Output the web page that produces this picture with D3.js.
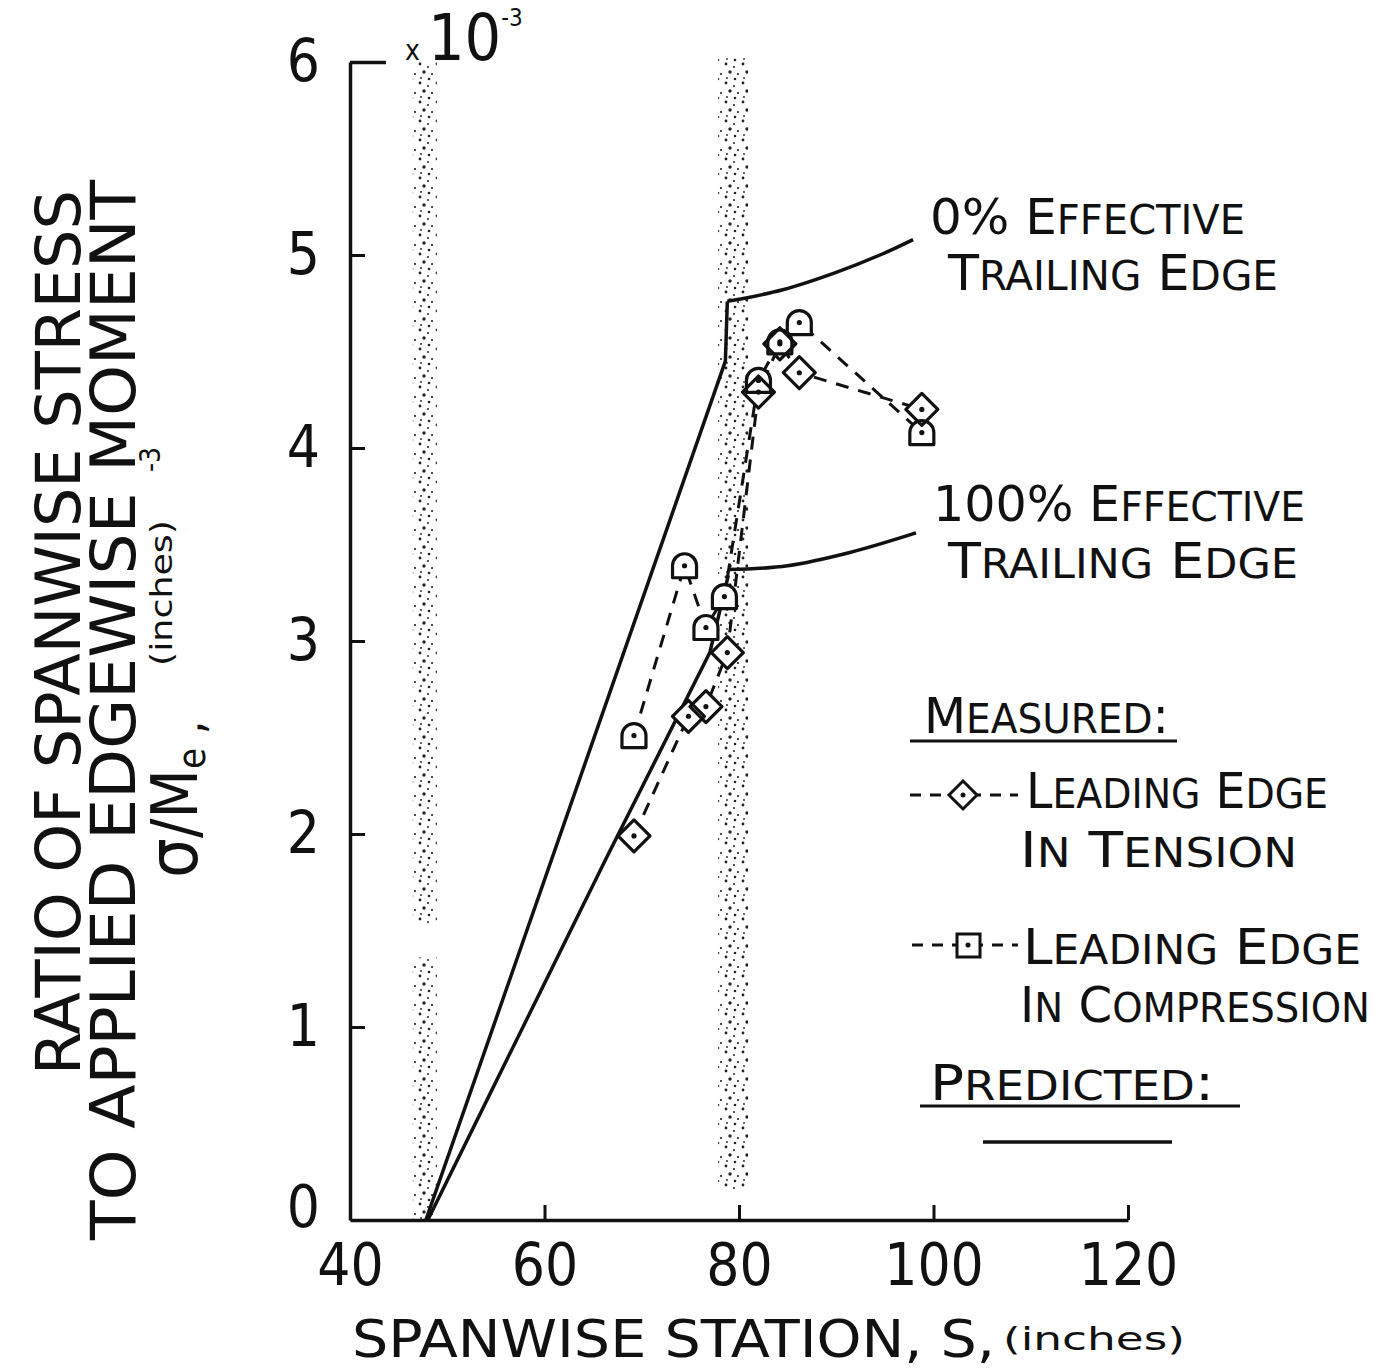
<!DOCTYPE html>
<html>
<head>
<meta charset="utf-8">
<script src="https://cdn.jsdelivr.net/npm/d3@7"></script>
<style>
  body { margin: 0; background: #fff; }
  text { font-family: "Liberation Sans Narrow", "DejaVu Sans Condensed", "Arial Narrow", sans-serif; fill: #111; }
</style>
</head>
<body>
<div id="chart"></div>
<script>
// measured, leading edge in tension (diamonds)
var tensionS = [69.2, 74.8, 76.6, 78.8, 82.0, 84.2, 86.2, 98.8];
var tensionR = [1.99, 2.61, 2.66, 2.94, 4.29, 4.54, 4.39, 4.20];
// measured, leading edge in compression (squares)
var compS = [69.2, 74.4, 76.6, 78.5, 82.0, 84.2, 86.2, 98.8];
var compR = [2.51, 3.39, 3.07, 3.23, 4.35, 4.55, 4.65, 4.08];
// predicted curves
var pred0S = [47.8, 78.6, 78.8];
var pred0R = [0, 4.45, 4.76];
var pred100S = [48.0, 66.4, 77.0, 78.9];
var pred100R = [0, 1.88, 2.94, 3.34];
// leader lines from the curves to their labels
var lead0S = [78.8, 84.5, 90.0, 94.5, 97.9];
var lead0R = [4.76, 4.82, 4.91, 5.00, 5.08];
var lead100S = [78.9, 85.0, 91.5, 98.2];
var lead100R = [3.37, 3.39, 3.46, 3.56];
// stippled bands: station, from, to
var bandS = [47.7, 47.7, 79.4];
var bandFrom = [0, 1.53, 0.15];
var bandTo = [1.36, 6, 6.02];

var xTicks = [40, 60, 80, 100, 120];
var yTicks = [0, 1, 2, 3, 4, 5, 6];

var svgWidth = 1375, svgHeight = 1371;
var margin = {top: 62, right: 247, bottom: 151, left: 350};
var width = svgWidth - margin.left - margin.right;
var height = svgHeight - margin.top - margin.bottom;

var svg = d3.select("#chart").append("svg")
  .attr("width", svgWidth)
  .attr("height", svgHeight);

// stipple pattern for the bands
var pat = svg.append("defs").append("pattern")
  .attr("id", "stip")
  .attr("patternUnits", "userSpaceOnUse")
  .attr("width", 17).attr("height", 19);
[[2, 2, 1.4], [10, 5, 1.0], [6, 10, 1.7], [14, 12, 1.1], [3, 16, 0.9], [11, 17, 1.3]].forEach(function(d) {
  pat.append("circle").attr("cx", d[0]).attr("cy", d[1]).attr("r", d[2]).attr("fill", "#222");
});

var chartGroup = svg.append("g")
  .attr("transform", `translate(${margin.left}, ${margin.top})`);

var x = d3.scaleLinear().domain([40, 120]).range([0, width]);
var y = d3.scaleLinear().domain([0, 6]).range([height, 0]);

// bands
chartGroup.selectAll(".band")
  .data(bandS.map((s, i) => ({s: s, a: bandFrom[i], b: bandTo[i], w: i < 2 ? 24 : 30})))
  .enter().append("rect")
  .attr("x", d => x(d.s) - d.w / 2)
  .attr("width", d => d.w)
  .attr("y", d => y(d.b))
  .attr("height", d => y(d.a) - y(d.b))
  .attr("fill", "url(#stip)");

// axes
var leftAxis = d3.axisLeft(y).tickValues(yTicks).tickFormat(d3.format("d"))
  .tickSize(-15).tickPadding(30).tickSizeOuter(0);
var bottomAxis = d3.axisBottom(x).tickValues(xTicks).tickFormat(d3.format("d"))
  .tickSize(-15).tickPadding(24).tickSizeOuter(0);

var gy = chartGroup.append("g").call(leftAxis);
var gx = chartGroup.append("g").attr("transform", `translate(0, ${height})`).call(bottomAxis);

[gx, gy].forEach(function(g) {
  g.select(".domain").attr("stroke", "#111").attr("stroke-width", 3.5);
  g.selectAll(".tick line").attr("stroke", "#111").attr("stroke-width", 3);
  g.selectAll(".tick text").style("font-size", "58px");
});
gy.selectAll(".tick").filter(d => d === 6).select("line").attr("x2", 36).attr("stroke-width", 3.5);
gy.selectAll(".tick").filter(d => d === 0).select("line").remove();
gy.selectAll(".tick").filter(d => d === 0).select("text").attr("y", -12);
gx.selectAll(".tick").filter(d => d === 40).select("line").remove();

// x10^-3
var mult = chartGroup.append("text").attr("x", 55).attr("y", -2);
mult.append("tspan").style("font-size", "28px").text("x");
mult.append("tspan").attr("dx", 8).style("font-size", "64px").text("10");
mult.append("tspan").attr("dy", -34).style("font-size", "24px").text("-3");

var line = d3.line().x(d => x(d[0])).y(d => y(d[1]));
var curve = d3.line().x(d => x(d[0])).y(d => y(d[1])).curve(d3.curveCatmullRom);

function pts(a, b) { return a.map((v, i) => [v, b[i]]); }

// predicted lines and leaders
[pts(pred0S, pred0R), pts(pred100S, pred100R)].forEach(function(p) {
  chartGroup.append("path").attr("d", line(p))
    .attr("fill", "none").attr("stroke", "#111").attr("stroke-width", 3.5)
    .attr("stroke-linejoin", "round");
});
[pts(lead0S, lead0R), pts(lead100S, lead100R)].forEach(function(p) {
  chartGroup.append("path").attr("d", curve(p))
    .attr("fill", "none").attr("stroke", "#111").attr("stroke-width", 3.5);
});

// measured dashed lines
var tension = pts(tensionS, tensionR);
var comp = pts(compS, compR);
[tension, comp].forEach(function(p) {
  chartGroup.append("path").attr("d", line(p))
    .attr("fill", "none").attr("stroke", "#111").attr("stroke-width", 3)
    .attr("stroke-dasharray", "13,10");
});

var diamond = "M0,-16L16,0L0,16L-16,0Z";
var tomb = "M-12,12V0A12,12 0 0 1 12,0V12Z";

function markers(data, shape, fill) {
  var m = chartGroup.append("g").selectAll("g")
    .data(data).enter().append("g")
    .attr("transform", d => `translate(${x(d[0])}, ${y(d[1])})`);
  m.append("path").attr("d", shape)
    .attr("fill", fill ? "#fff" : "none")
    .attr("stroke", fill ? "none" : "#111")
    .attr("stroke-width", 3.2).attr("stroke-linejoin", "round");
  if (!fill) m.append("circle").attr("r", 2.6).attr("fill", "#111");
}
markers(tension, diamond, true);
markers(comp, tomb, true);
markers(tension, diamond, false);
markers(comp, tomb, false);

// small caps helper: capitals big, lower case letters as smaller capitals
function smallCaps(sel, str, big, small) {
  var runs = [];
  for (var i = 0; i < str.length; i++) {
    var c = str[i];
    var low = c !== c.toUpperCase();
    var size = low ? small : big;
    if (runs.length && runs[runs.length - 1].size === size) runs[runs.length - 1].t += c.toUpperCase();
    else runs.push({size: size, t: c.toUpperCase()});
  }
  runs.forEach(r => sel.append("tspan").style("font-size", r.size + "px").text(r.t));
  return sel;
}

function label(str, x0, yb, len, big, small) {
  var t = svg.append("text").attr("x", x0).attr("y", yb)
    .attr("textLength", len).attr("lengthAdjust", "spacingAndGlyphs");
  smallCaps(t, str, big, small);
  return t;
}

label("0% Effective", 930, 234, 315, 50, 40);
label("Trailing Edge", 948, 290, 330, 50, 40);
label("100% Effective", 933, 521, 372, 50, 40);
label("Trailing Edge", 948, 578, 350, 50, 40);

// legend
label("Measured:", 924, 733, 245, 50, 40);
svg.append("line").attr("x1", 910).attr("x2", 1177).attr("y1", 741).attr("y2", 741)
  .attr("stroke", "#111").attr("stroke-width", 3);
label("Leading Edge", 1026, 808, 302, 50, 40);
label("In Tension", 1020, 867, 277, 50, 40);
label("Leading Edge", 1023, 964, 338, 50, 40);
label("In Compression", 1020, 1022, 350, 50, 40);
label("Predicted:", 930, 1100, 284, 50, 40);
svg.append("line").attr("x1", 920).attr("x2", 1240).attr("y1", 1106).attr("y2", 1106)
  .attr("stroke", "#111").attr("stroke-width", 3);
svg.append("line").attr("x1", 983).attr("x2", 1172).attr("y1", 1142).attr("y2", 1142)
  .attr("stroke", "#111").attr("stroke-width", 3.5);

svg.append("line").attr("x1", 910).attr("x2", 1018).attr("y1", 795).attr("y2", 795)
  .attr("stroke", "#111").attr("stroke-width", 3).attr("stroke-dasharray", "11,9");
svg.append("path").attr("d", "M963,781L977,795L963,809L949,795Z")
  .attr("fill", "#fff").attr("stroke", "#111").attr("stroke-width", 3);
svg.append("circle").attr("cx", 963).attr("cy", 795).attr("r", 2.5).attr("fill", "#111");

svg.append("line").attr("x1", 912).attr("x2", 1018).attr("y1", 945).attr("y2", 945)
  .attr("stroke", "#111").attr("stroke-width", 3).attr("stroke-dasharray", "11,9");
svg.append("rect").attr("x", 957).attr("y", 934).attr("width", 23).attr("height", 23)
  .attr("fill", "#fff").attr("stroke", "#111").attr("stroke-width", 3);
svg.append("circle").attr("cx", 968).attr("cy", 945).attr("r", 2.5).attr("fill", "#111");

// axis titles
svg.append("text").attr("x", 352).attr("y", 1357)
  .attr("textLength", 643).attr("lengthAdjust", "spacingAndGlyphs")
  .style("font-size", "52px").text("SPANWISE STATION, S,");
svg.append("text").attr("x", 1003).attr("y", 1350)
  .attr("textLength", 182).attr("lengthAdjust", "spacingAndGlyphs")
  .style("font-size", "32px").text("(inches)");

svg.append("text").attr("transform", "translate(80, 1075) rotate(-90)")
  .attr("textLength", 885).attr("lengthAdjust", "spacingAndGlyphs")
  .style("font-size", "62px").text("RATIO OF SPANWISE  STRESS");
svg.append("text").attr("transform", "translate(135, 1240) rotate(-90)")
  .attr("textLength", 1060).attr("lengthAdjust", "spacingAndGlyphs")
  .style("font-size", "62px").text("TO APPLIED EDGEWISE MOMENT");

var t3 = svg.append("text").attr("transform", "translate(197, 878) rotate(-90)");
t3.append("tspan").style("font-size", "70px").text("σ");
t3.append("tspan").style("font-size", "64px").text("/M");
t3.append("tspan").attr("dy", 8).style("font-size", "38px").text("e");
t3.append("tspan").attr("dy", -2).style("font-size", "48px").text(" ,");
svg.append("text").attr("transform", "translate(172, 666) rotate(-90)")
  .attr("textLength", 146).attr("lengthAdjust", "spacingAndGlyphs")
  .style("font-size", "30px").text("(inches)");
svg.append("text").attr("transform", "translate(160, 472) rotate(-90)")
  .style("font-size", "28px").text("-3");
</script>
</body>
</html>
